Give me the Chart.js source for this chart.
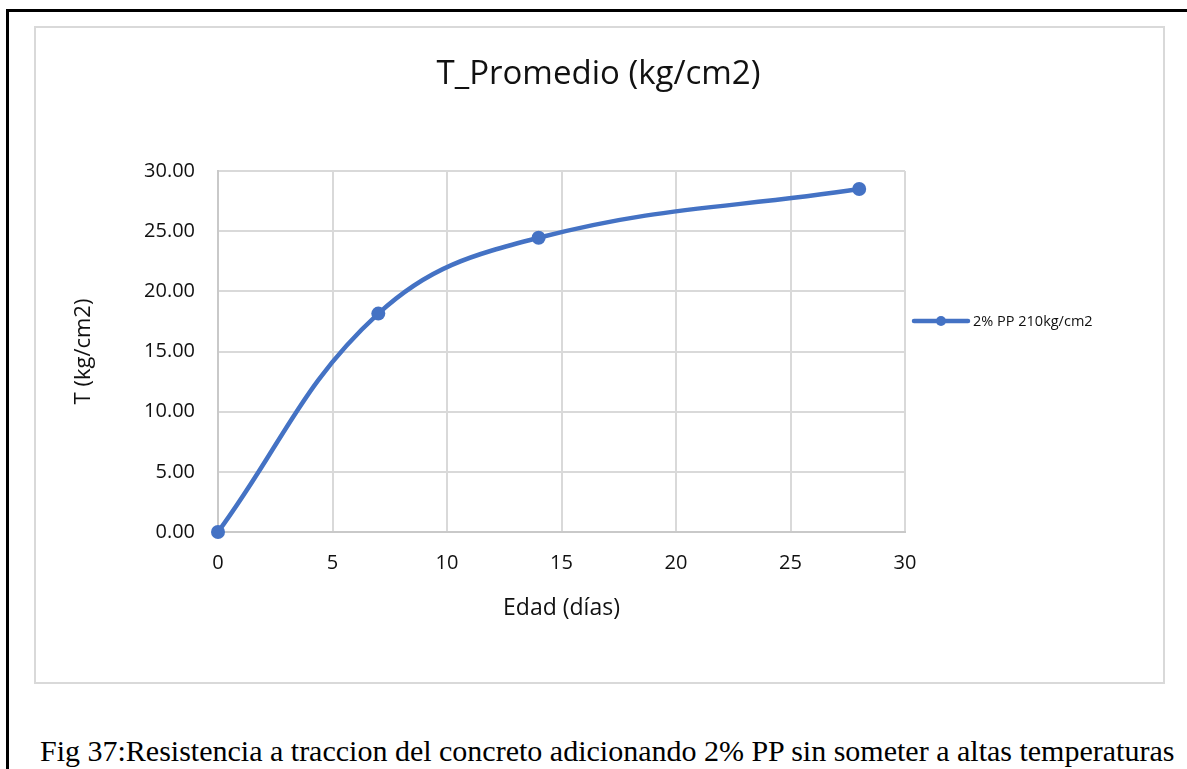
<!DOCTYPE html>
<html>
<head>
<meta charset="utf-8">
<script src="https://cdn.jsdelivr.net/npm/chart.js@4/dist/chart.umd.min.js"></script>
<style>
  html, body { margin: 0; padding: 0; background: #fff; }
  body { width: 1187px; height: 769px; position: relative; overflow: hidden; }
  .page-border { position: absolute; left: 6px; top: 9px; width: 1181px; height: 760px;
                 border-top: 3px solid #000; border-left: 3px solid #000; box-sizing: border-box; }
  .frame { position: absolute; left: 34px; top: 26px; width: 1131px; height: 658px;
           border: 2px solid #d9d9d9; box-sizing: border-box; }
  #chart { position: absolute; left: 36px; top: 28px; }
  .caption { position: absolute; left: 40px; top: 734px; font-family: "Liberation Serif", "Times New Roman", serif;
             font-size: 30px; color: #000; white-space: nowrap; }
</style>
</head>
<body>
<div class="page-border"></div>
<div class="frame"></div>
<canvas id="chart" width="1127" height="654"></canvas>
<div class="caption" id="caption"></div>
<script>
// Ages of the specimens (days) and average tensile strength (kg/cm2)
const edadDias = [0, 7, 14, 28];
const traccion = [0.00, 18.15, 24.45, 28.50];
const serieNombre = '2% PP 210kg/cm2';

const tituloGrafico = 'T_Promedio (kg/cm2)';
const tituloEjeX = 'Edad (días)';
const tituloEjeY = 'T (kg/cm2)';
const pieFigura = 'Fig 37:Resistencia a traccion del concreto adicionando 2% PP sin someter a altas temperaturas';

const ejeXMin = 0, ejeXMax = 30, ejeXPaso = 5;
const ejeYMin = 0, ejeYMax = 30, ejeYPaso = 5;

document.getElementById('caption').textContent = pieFigura;

const FONT = '"Open Sans", "Noto Sans", sans-serif';
const AZUL = '#4472C4';
const GRIS = '#d9d9d9';
const TEXTO = '#111111';

// Chart title centred across the whole chart frame
const tituloPlugin = {
  id: 'tituloCentrado',
  afterDraw(chart) {
    const ctx = chart.ctx;
    ctx.save();
    ctx.font = '33px ' + FONT;
    ctx.fillStyle = TEXTO;
    ctx.textAlign = 'center';
    ctx.textBaseline = 'middle';
    ctx.fillText(tituloGrafico, chart.width / 2 - 1, 47);
    ctx.restore();
  }
};

// Legend entry: line with a marker in the middle, to the right of the plot
const leyendaPlugin = {
  id: 'leyendaLinea',
  afterDraw(chart) {
    const ctx = chart.ctx;
    const ds = chart.data.datasets[0];
    const x0 = chart.chartArea.right + 9;
    const x1 = x0 + 54;
    const y = chart.chartArea.top + 150;
    ctx.save();
    ctx.strokeStyle = ds.borderColor;
    ctx.lineWidth = 4.5;
    ctx.lineCap = 'round';
    ctx.beginPath();
    ctx.moveTo(x0, y);
    ctx.lineTo(x1, y);
    ctx.stroke();
    ctx.fillStyle = ds.borderColor;
    ctx.beginPath();
    ctx.arc((x0 + x1) / 2, y, 5, 0, Math.PI * 2);
    ctx.fill();
    ctx.font = '14.5px ' + FONT;
    ctx.fillStyle = TEXTO;
    ctx.textAlign = 'left';
    ctx.textBaseline = 'middle';
    ctx.fillText(ds.label, x1 + 5, y + 1);
    ctx.restore();
  }
};

new Chart(document.getElementById('chart'), {
  type: 'scatter',
  data: {
    datasets: [{
      label: serieNombre,
      data: edadDias.map((d, i) => ({ x: d, y: traccion[i] })),
      showLine: true,
      borderColor: AZUL,
      backgroundColor: AZUL,
      borderWidth: 4.5,
      pointRadius: 7,
      pointHoverRadius: 7,
      pointBorderWidth: 0,
      tension: 0.4,
      clip: false
    }]
  },
  options: {
    responsive: false,
    animation: false,
    layout: { padding: { left: 0, top: 143, right: 258, bottom: 0 } },
    plugins: {
      legend: { display: false },
      title: { display: false },
      tooltip: { enabled: false }
    },
    scales: {
      x: {
        type: 'linear',
        min: ejeXMin, max: ejeXMax,
        afterFit(scale) { scale.height = 150; },
        ticks: { stepSize: ejeXPaso, padding: 19, color: TEXTO, font: { family: FONT, size: 20 } },
        grid: { color: GRIS, lineWidth: 2, drawTicks: false },
        border: { color: '#c9c9c9', width: 2 },
        title: { display: true, text: tituloEjeX, color: TEXTO, font: { family: FONT, size: 23 }, padding: { top: 0, bottom: 60 } }
      },
      y: {
        min: ejeYMin, max: ejeYMax,
        afterFit(scale) { scale.width = 182; },
        ticks: { stepSize: ejeYPaso, padding: 23, color: TEXTO, font: { family: FONT, size: 20 },
                 callback: v => Number(v).toFixed(2) },
        grid: { color: GRIS, lineWidth: 2, drawTicks: false },
        border: { color: '#c9c9c9', width: 2 },
        title: { display: true, text: tituloEjeY, color: TEXTO, font: { family: FONT, size: 22 }, padding: { top: 35, bottom: 0 } }
      }
    }
  },
  plugins: [tituloPlugin, leyendaPlugin]
});
</script>
</body>
</html>
